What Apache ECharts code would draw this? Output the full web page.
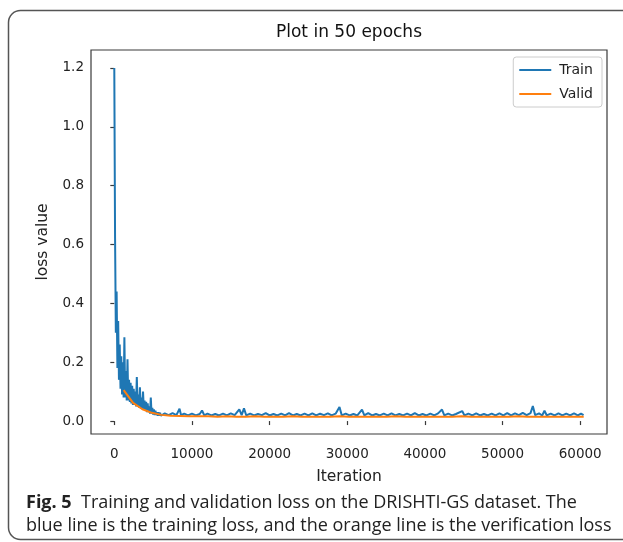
<!DOCTYPE html>
<html>
<head>
<meta charset="utf-8">
<script src="https://cdn.jsdelivr.net/npm/echarts@6/dist/echarts.min.js"></script>
<style>
html,body{margin:0;padding:0;background:#fff;}
#chart{width:623px;height:542px;}
</style>
</head>
<body>
<div id="chart"></div>
<script>
// ---- data ----
const titleText = 'Plot in 50 epochs';
const xName = 'Iteration';
const yName = 'loss value';
const xTicks = [0, 10000, 20000, 30000, 40000, 50000, 60000];
const yTicks = [0.0, 0.2, 0.4, 0.6, 0.8, 1.0, 1.2];
const seriesNames = ['Train', 'Valid'];

// training loss (iteration, value)
const trainIter = [
  0,100,200,300,400,500,600,700,800,900,
  1000,1100,1200,1300,1400,1500,1600,1700,1800,1900,
  2000,2100,2200,2300,2400,2500,2600,2700,2800,2900,
  3000,3100,3200,3300,3400,3500,3600,3700,3800,3900,
  4000,4100,4200,4300,4400,4500,4600,4700,4800,4900,
  5000,5100,5200,5300,5400,5500,5600,5700,5800,5900,6000,
  6500,7000,7500,8000,8400,8600,9000,9500,10000,10500,11000,11300,11600,12000,12500,
  13000,13500,14000,14500,15000,15500,16100,16400,16700,17000,17500,18000,18500,19000,
  19500,20000,20500,21000,21500,22000,22500,23000,23500,24000,24500,25000,25500,26000,
  26500,27000,27500,28000,28500,29000,29300,29800,30300,30800,31300,31900,32200,32700,
  33200,33700,34200,34700,35200,35700,36200,36700,37200,37700,38200,38700,39200,39700,
  40200,40700,41200,41700,42200,42500,43000,43500,44000,44800,45100,45600,46100,46600,
  47100,47600,48100,48600,49100,49600,50100,50600,51100,51600,52100,52600,53100,53600,
  53900,54200,54700,55100,55400,55700,56200,56700,57200,57700,58200,58700,59200,59700,
  60100,60430
];
const trainLoss = [
  1.20,0.62,0.30,0.44,0.18,0.34,0.14,0.26,0.11,0.22,
  0.09,0.20,0.08,0.285,0.08,0.17,0.07,0.21,0.07,0.14,
  0.065,0.13,0.06,0.12,0.055,0.11,0.055,0.10,0.05,0.15,
  0.05,0.09,0.045,0.115,0.045,0.08,0.04,0.10,0.04,0.07,
  0.035,0.065,0.03,0.06,0.03,0.05,0.025,0.08,0.025,0.045,
  0.022,0.04,0.02,0.035,0.02,0.03,0.018,0.03,0.018,0.028,0.018,
  0.026,0.020,0.027,0.020,0.042,0.020,0.025,0.019,0.025,0.019,0.024,0.036,0.019,0.025,0.019,
  0.024,0.019,0.025,0.019,0.026,0.020,0.040,0.020,0.043,0.019,0.025,0.019,0.024,0.020,
  0.027,0.019,0.024,0.019,0.025,0.019,0.027,0.019,0.024,0.019,0.025,0.019,0.026,0.019,
  0.025,0.020,0.026,0.019,0.025,0.048,0.019,0.025,0.019,0.024,0.019,0.039,0.019,0.027,
  0.019,0.024,0.019,0.025,0.019,0.026,0.019,0.024,0.019,0.025,0.019,0.027,0.019,0.024,
  0.019,0.025,0.019,0.026,0.039,0.019,0.025,0.019,0.024,0.034,0.019,0.025,0.019,0.026,
  0.019,0.024,0.019,0.025,0.019,0.026,0.019,0.027,0.019,0.026,0.020,0.028,0.020,0.027,
  0.051,0.020,0.026,0.019,0.035,0.019,0.025,0.019,0.026,0.019,0.025,0.019,0.026,0.019,
  0.025,0.020
];

// validation loss, one value per epoch (iteration at end of epoch)
const validIter = [
  1209,2418,3627,4836,6045,7254,8463,9672,10881,12090,
  13299,14508,15717,16926,18135,19344,20553,21762,22971,24180,
  25389,26598,27807,29016,30225,31434,32643,33852,35061,36270,
  37479,38688,39897,41106,42315,43524,44733,45942,47151,48360,
  49569,50778,51987,53196,54405,55614,56823,58032,59241,60450
];
const validLoss = [
  0.105,0.062,0.040,0.028,0.021,0.018,0.017,0.016,0.016,0.016,
  0.015,0.016,0.015,0.015,0.016,0.015,0.015,0.015,0.016,0.015,
  0.015,0.015,0.015,0.016,0.015,0.015,0.015,0.015,0.015,0.016,
  0.015,0.015,0.015,0.015,0.015,0.015,0.016,0.015,0.015,0.015,
  0.015,0.015,0.016,0.015,0.015,0.015,0.015,0.015,0.015,0.015
];

const captionBold = 'Fig. 5';
const captionLine1 = 'Training and validation loss on the DRISHTI-GS dataset. The';
const captionLine2 = 'blue line is the training loss, and the orange line is the verification loss';

// ---- chart ----
const chart = echarts.init(document.getElementById('chart'), null, {renderer: 'canvas'});
const mplFont = 'DejaVu Sans';
const axisColor = '#3a3a3a';
const capFont = '"Open Sans"';

const option = {
  animation: false,
  backgroundColor: '#fff',
  grid: {
    left: 91, top: 50, right: 16, bottom: 108,
    show: true, borderColor: axisColor, borderWidth: 1.2, backgroundColor: 'transparent'
  },
  legend: {
    orient: 'vertical',
    right: 21, top: 57,
    data: seriesNames.map(n => ({name: n, icon: 'rect'})),
    itemWidth: 32, itemHeight: 2, itemGap: 10,
    padding: [6, 9, 6, 6],
    borderColor: '#cccccc', borderWidth: 1, borderRadius: 3,
    backgroundColor: 'rgba(255,255,255,0.8)',
    textStyle: {fontFamily: mplFont, fontSize: 14, color: '#222', padding: [0, 0, 0, 3]}
  },
  xAxis: {
    type: 'value',
    min: -3000, max: 63450,
    name: xName, nameLocation: 'middle', nameGap: 35,
    nameTextStyle: {fontFamily: mplFont, fontSize: 15.5, color: '#222'},
    axisLine: {show: false},
    splitLine: {show: false},
    axisTick: {show: true, inside: false, length: 4, customValues: xTicks, lineStyle: {color: axisColor, width: 1.2}},
    axisLabel: {customValues: xTicks, margin: 13, fontFamily: mplFont, fontSize: 13.5, color: '#222',
      formatter: v => String(v)}
  },
  yAxis: {
    type: 'value',
    min: -0.044, max: 1.261,
    name: yName, nameLocation: 'middle', nameGap: 40, nameRotate: 90,
    nameTextStyle: {fontFamily: mplFont, fontSize: 15.5, color: '#222'},
    axisLine: {show: false},
    splitLine: {show: false},
    axisTick: {show: true, inside: false, length: 4, customValues: yTicks, lineStyle: {color: axisColor, width: 1.2}},
    axisLabel: {customValues: yTicks, margin: 7, fontFamily: mplFont, fontSize: 13.5, color: '#222',
      formatter: v => Number(v).toFixed(1)}
  },
  series: [
    {
      name: seriesNames[0], type: 'line', showSymbol: false, symbol: 'none',
      data: trainIter.map((x, i) => [x, trainLoss[i]]),
      lineStyle: {color: '#1f77b4', width: 2},
      itemStyle: {color: '#1f77b4'}
    },
    {
      name: seriesNames[1], type: 'line', showSymbol: false, symbol: 'none',
      data: validIter.map((x, i) => [x, validLoss[i]]),
      lineStyle: {color: '#ff7f0e', width: 2},
      itemStyle: {color: '#ff7f0e'}
    }
  ],
  graphic: [
    {type: 'rect', silent: true, z: 100,
      shape: {x: 8.5, y: 10.5, width: 640, height: 529, r: 12},
      style: {fill: 'none', stroke: '#555', lineWidth: 1.5}},
    {type: 'text', x: 349, y: 33, z: 100,
      style: {text: titleText, font: '17px "DejaVu Sans"', fill: '#111',
        align: 'center', verticalAlign: 'middle', textAlign: 'center', textVerticalAlign: 'middle'}},
    {type: 'text', x: 26, y: 503, z: 100,
      style: {
        text: '{b|' + captionBold + '}  ' + captionLine1,
        font: '18px ' + capFont, fill: '#222', verticalAlign: 'middle', textVerticalAlign: 'middle',
        rich: {b: {fontWeight: 'bold', fontFamily: 'Open Sans', fontSize: 18, fill: '#222'}}
      }},
    {type: 'text', x: 26, y: 526, z: 100,
      style: {text: captionLine2, font: '18px ' + capFont, fill: '#222', verticalAlign: 'middle', textVerticalAlign: 'middle'}}
  ]
};
chart.setOption(option);
</script>
</body>
</html>
